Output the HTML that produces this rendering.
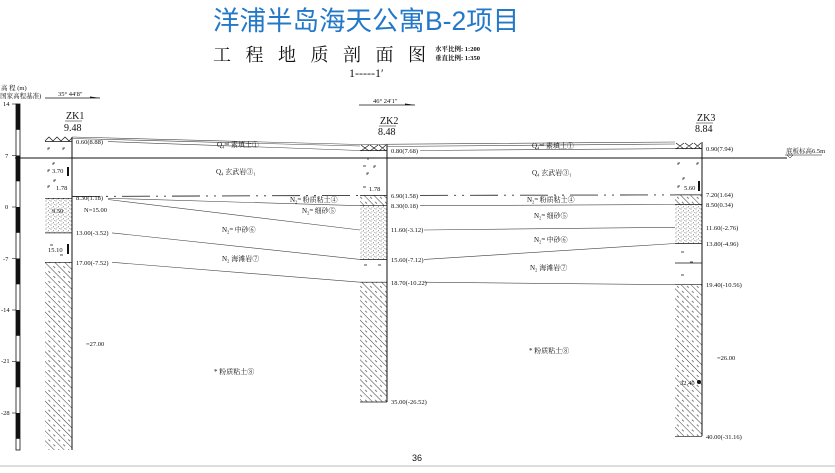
<!DOCTYPE html>
<html><head><meta charset="utf-8"><style>
html,body{margin:0;padding:0;background:#fff;}
svg{display:block;}
text{font-family:"Liberation Serif","Noto Serif CJK SC",serif;fill:#111;}
.s{font-size:6.5px;}
.l{font-size:7px;}
</style></head><body>
<svg width="835" height="473" viewBox="0 0 835 473" xmlns="http://www.w3.org/2000/svg">
<defs>
<pattern id="hat" width="7" height="7" patternUnits="userSpaceOnUse" patternTransform="rotate(-45)">
<line x1="0" y1="0" x2="0" y2="7" stroke="#222" stroke-width="0.9"/>
<line x1="3.5" y1="2" x2="3.5" y2="4.5" stroke="#444" stroke-width="0.7"/>
</pattern>
<pattern id="dot" width="5" height="4" patternUnits="userSpaceOnUse">
<circle cx="1" cy="1" r="0.45" fill="#333"/><circle cx="3.5" cy="2.8" r="0.45" fill="#333"/><circle cx="2" cy="3.5" r="0.35" fill="#555"/><circle cx="4.3" cy="0.5" r="0.35" fill="#555"/>
</pattern>
</defs>

<text x="213" y="30" style="font-family:'Liberation Sans','Noto Sans CJK SC',sans-serif;font-size:26.5px;fill:#2378c8">洋浦半岛海天公寓B-2项目</text>
<text x="213" y="61" style="font-size:18px;letter-spacing:14.5px">工程地质剖面图</text>
<text x="435" y="51" style="font-size:6.5px;font-weight:bold">水平比例: 1:200</text>
<text x="435" y="60" style="font-size:6.5px;font-weight:bold">垂直比例: 1:350</text>
<text x="349" y="77" style="font-size:12px">1-----1′</text>

<text x="1" y="90" class="s">高 程 (m)</text>
<text x="-2" y="98" class="s">(国家高程基准)</text>
<rect x="16" y="104" width="4" height="346" fill="#fff" stroke="#111" stroke-width="0.8"/>
<g fill="#111">
<rect x="16" y="104" width="4" height="25.8"/><rect x="16" y="155.5" width="4" height="25.8"/>
<rect x="16" y="207" width="4" height="25.8"/><rect x="16" y="258.5" width="4" height="25.8"/>
<rect x="16" y="310" width="4" height="25.8"/><rect x="16" y="361.5" width="4" height="25.8"/>
<rect x="16" y="413" width="4" height="25.8"/>
</g>
<g class="s">
<text x="3" y="106">14</text><text x="5" y="158">7</text><text x="5" y="209">0</text>
<text x="3" y="261">-7</text><text x="1" y="312">-14</text><text x="1" y="363">-21</text><text x="1" y="415">-28</text>
</g>
<g stroke="#111" stroke-width="0.6">
<line x1="12" y1="104" x2="16" y2="104"/><line x1="12" y1="155.5" x2="16" y2="155.5"/><line x1="12" y1="207" x2="16" y2="207"/>
<line x1="12" y1="258.5" x2="16" y2="258.5"/><line x1="12" y1="310" x2="16" y2="310"/><line x1="12" y1="361.5" x2="16" y2="361.5"/><line x1="12" y1="413" x2="16" y2="413"/>
</g>

<text x="58" y="96" class="s">35° 44′8″</text>
<line x1="45" y1="98" x2="100" y2="98" stroke="#111" stroke-width="0.7"/><polygon points="100,98 90,96.5 90,98" fill="#111"/>
<text x="373" y="103" class="s">46° 24′1″</text>
<line x1="359" y1="105" x2="415" y2="105" stroke="#111" stroke-width="0.7"/><polygon points="415,105 405,103.5 405,105" fill="#111"/>

<g style="font-size:10px">
<text x="66" y="119">ZK1</text><line x1="65" y1="121" x2="82" y2="121" stroke="#111" stroke-width="0.6"/><text x="64" y="131">9.48</text>
<text x="380" y="124">ZK2</text><line x1="379" y1="126" x2="396" y2="126" stroke="#111" stroke-width="0.6"/><text x="378" y="135">8.48</text>
<text x="697" y="121">ZK3</text><line x1="696" y1="123" x2="713" y2="123" stroke="#111" stroke-width="0.6"/><text x="695" y="132">8.84</text>
</g>

<rect x="45" y="198" width="27" height="35" fill="url(#dot)"/>
<rect x="45" y="262" width="27" height="188" fill="url(#hat)"/>
<rect x="360" y="195.5" width="27" height="10" fill="url(#hat)"/>
<rect x="360" y="206" width="27" height="53" fill="url(#dot)"/>
<rect x="360" y="282" width="27" height="120" fill="url(#hat)"/>
<rect x="675" y="195" width="27" height="9.5" fill="url(#hat)"/>
<rect x="675" y="204.5" width="27" height="39" fill="url(#dot)"/>
<rect x="675" y="285" width="27" height="151" fill="url(#hat)"/>

<!-- basalt marks -->
<g stroke="#111" stroke-width="0.7" fill="none">
<path d="M48,150 v-2 h2 M63,150 v-2 h2 M53,165 v-2 h2 M48,172 v-2 h2 M54,182 v-2 h2 M48,188 v-2 h2"/>
<path d="M368,160 v-2 h2 M367,175 v-2 h2 M374,168 v-2 h2 M363,187 h3 M363,166 h3"/>
<path d="M678,165 v-2 h2 M697,165 v-2 h2 M683,180 v-2 h2 M678,188 v-2 h2 M681,252 h3 M690,262 h3 M681,275 h3"/>
<path d="M50,245 h3 M60,255 h3 M364,265 h3 M378,265 h3"/>
</g>

<g stroke="#111" stroke-width="1">
<line x1="72" y1="137" x2="72" y2="450"/>
<line x1="387" y1="144.5" x2="387" y2="402"/>
<line x1="702" y1="142" x2="702" y2="436"/>
</g>
<polyline points="45,141 49,137 53,141 57,137 61,141 65,137 69,141 72,138" fill="none" stroke="#111" stroke-width="0.7"/>
<path d="M361,145 l8,6 M369,145 l-8,6 M370,145 l8,6 M378,145 l-8,6 M379,145 l7,6 M386,145 l-7,6" stroke="#111" stroke-width="0.7"/>
<path d="M676,143 l8,6 M684,143 l-8,6 M685,143 l8,6 M693,143 l-8,6 M694,143 l7,6 M701,143 l-7,6" stroke="#111" stroke-width="0.7"/>

<g stroke="#111" stroke-width="0.7">
<line x1="45" y1="141.6" x2="72" y2="141.6"/><line x1="45" y1="198.3" x2="72" y2="198.3"/><line x1="45" y1="232.9" x2="72" y2="232.9"/><line x1="45" y1="262.3" x2="72" y2="262.3"/>
<line x1="360" y1="150.5" x2="387" y2="150.5"/><line x1="360" y1="195.4" x2="387" y2="195.4"/><line x1="360" y1="205.7" x2="387" y2="205.7"/><line x1="360" y1="259.4" x2="387" y2="259.4"/><line x1="360" y1="282.2" x2="387" y2="282.2"/><line x1="360" y1="402" x2="387" y2="402"/>
<line x1="675" y1="148.6" x2="702" y2="148.6"/><line x1="675" y1="194.9" x2="702" y2="194.9"/><line x1="675" y1="204.5" x2="702" y2="204.5"/><line x1="675" y1="243.5" x2="702" y2="243.5"/><line x1="675" y1="263" x2="702" y2="263"/><line x1="675" y1="284.7" x2="702" y2="284.7"/><line x1="675" y1="436.3" x2="702" y2="436.3"/>
</g>

<line x1="15" y1="158" x2="787" y2="158" stroke="#111" stroke-width="0.9"/>
<text x="786" y="153" class="s">底板标高6.5m</text>
<line x1="785" y1="155" x2="822" y2="155" stroke="#111" stroke-width="0.5"/>
<polygon points="787,155 793,155 790,158" fill="none" stroke="#111" stroke-width="0.5"/>

<g stroke="#444" stroke-width="0.6" fill="none">
<polyline points="72,137 360,144.5 675,142"/>
<polyline points="108,141.6 360,150.5"/><polyline points="420,150.5 675,148.6"/>
<polyline points="72,138.5 360,146"/><polyline points="387,146.5 675,144"/>
<polyline points="108,198.3 360,205.7"/><polyline points="420,205.7 675,204.5"/>
<polyline points="108,199.5 360,230"/><polyline points="424,230 675,227.3"/>
<polyline points="112,232.9 360,259.4"/><polyline points="424,259.4 675,243.5"/>
<polyline points="112,262.3 360,282.2"/><polyline points="424,282.2 675,284.7"/>
</g>
<g stroke="#333" stroke-width="0.9" stroke-dasharray="28,6,2,6,2,6" fill="none">
<polyline points="72,196.5 360,195.4"/><polyline points="420,195.4 675,194.9"/>
</g>

<g class="s">
<text x="76" y="144">0.60(8.88)</text><text x="76" y="200">8.30(1.18)</text><text x="84" y="212">N=15.00</text>
<text x="76" y="235">13.00(-3.52)</text><text x="76" y="265">17.00(-7.52)</text><text x="86" y="346">=27.00</text>
<text x="391" y="153">0.80(7.68)</text><text x="391" y="198">6.90(1.58)</text><text x="391" y="208">8.30(0.18)</text>
<text x="391" y="232">11.60(-3.12)</text><text x="391" y="262">15.60(-7.12)</text><text x="391" y="285">18.70(-10.22)</text><text x="391" y="404">35.00(-26.52)</text>
<text x="706" y="151">0.90(7.94)</text><text x="706" y="197">7.20(1.64)</text><text x="706" y="207">8.50(0.34)</text>
<text x="706" y="230">11.60(-2.76)</text><text x="706" y="246">13.80(-4.96)</text><text x="706" y="287">19.40(-10.56)</text>
<text x="717" y="360">=26.00</text><text x="706" y="439">40.00(-31.16)</text>
<text x="52" y="173">3.70</text><text x="56" y="190">1.78</text><text x="52" y="213">9.50</text><text x="48" y="252">15.10</text>
<text x="369" y="191">1.78</text><text x="684" y="190">5.60</text><text x="680" y="385">32.40</text>
</g>
<circle cx="699" cy="382" r="2" fill="#111"/>
<rect x="67" y="167" width="2" height="9" fill="#111"/><rect x="67" y="244" width="2" height="10" fill="#111"/><rect x="698" y="181" width="2" height="10" fill="#111"/>

<g class="l">
<text x="217" y="147">Q₄ᵐˡ 素填土①</text><text x="532" y="148">Q₄ᵐˡ 素填土①</text>
<text x="216" y="174">Q₄  玄武岩③₁</text><text x="532" y="175">Q₄  玄武岩③₁</text>
<text x="290" y="202">N₂ᵐ 粉质粘土④</text><text x="527" y="202">N₂ᵐ 粉质粘土④</text>
<text x="302" y="213">N₂ᵐ 细砂⑤</text><text x="534" y="218">N₂ᵐ 细砂⑤</text>
<text x="222" y="232">N₂ᵐ 中砂⑥</text><text x="534" y="242">N₂ᵐ 中砂⑥</text>
<text x="222" y="261">N₂  海滩岩⑦</text><text x="530" y="270">N₂  海滩岩⑦</text>
<text x="214" y="374">*  粉质粘土⑧</text><text x="529" y="353">*  粉质粘土⑧</text>
</g>

<text x="412" y="461" style="font-family:'Liberation Sans',sans-serif;font-size:9px">36</text>
<line x1="0" y1="466" x2="835" y2="466" stroke="#bbb" stroke-width="1"/>
</svg>
</body></html>
